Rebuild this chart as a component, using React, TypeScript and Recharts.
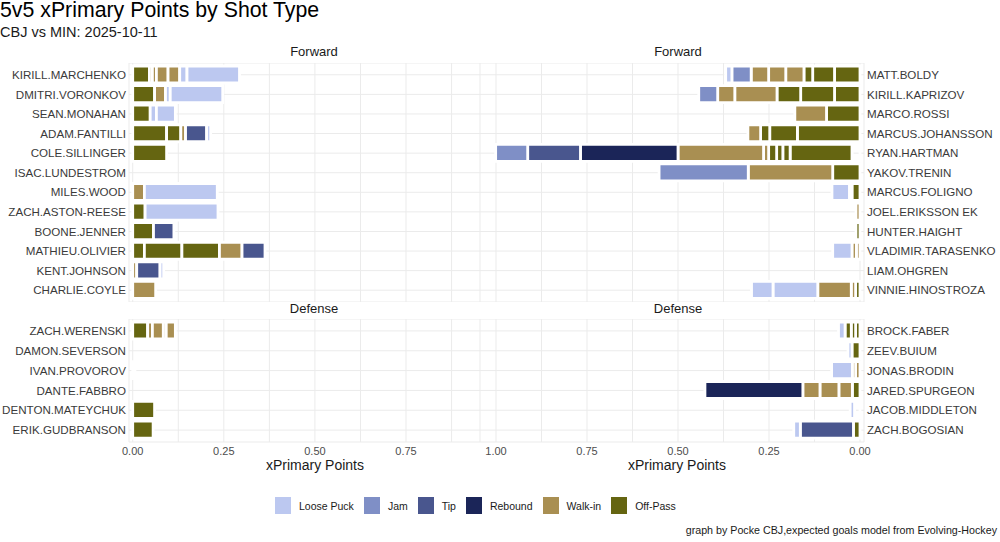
import React from "react";
import { BarChart, Bar, XAxis, YAxis, CartesianGrid, Cell } from "recharts";

// shot types in stacking order (legend order); furthest from zero first
const shotTypes = ["Loose Puck", "Jam", "Tip", "Rebound", "Walk-in", "Off-Pass"];
const shotColors = ["#bcc8f0", "#7f8fc6", "#49568e", "#1b2558", "#a98f52", "#656511"];

const LP = "Loose Puck", JM = "Jam", TP = "Tip", RB = "Rebound", WI = "Walk-in", OP = "Off-Pass", NA = "NA";

type Shot = [string, number];

// each shot listed from the zero line outward
const cbjForwards = [
  "KIRILL.MARCHENKO", "DMITRI.VORONKOV", "SEAN.MONAHAN", "ADAM.FANTILLI",
  "COLE.SILLINGER", "ISAC.LUNDESTROM", "MILES.WOOD", "ZACH.ASTON-REESE",
  "BOONE.JENNER", "MATHIEU.OLIVIER", "KENT.JOHNSON", "CHARLIE.COYLE",
];
const cbjForwardShots: Shot[][] = [
  [[OP, 0.046], [WI, 0.008], [WI, 0.011], [WI, 0.032], [WI, 0.032], [LP, 0.02], [LP, 0.144]],
  [[OP, 0.06], [WI, 0.03], [LP, 0.013], [LP, 0.144]],
  [[OP, 0.048], [LP, 0.017], [LP, 0.052]],
  [[OP, 0.093], [OP, 0.039], [WI, 0.013], [TP, 0.058], [LP, 0.011]],
  [[OP, 0.093]],
  [],
  [[WI, 0.032], [LP, 0.2]],
  [[OP, 0.034], [LP, 0.2]],
  [[OP, 0.057], [TP, 0.056]],
  [[OP, 0.032], [OP, 0.103], [OP, 0.103], [WI, 0.062], [TP, 0.063]],
  [[WI, 0.011], [TP, 0.064], [LP, 0.01]],
  [[WI, 0.063]],
];

const minForwards = [
  "MATT.BOLDY", "KIRILL.KAPRIZOV", "MARCO.ROSSI", "MARCUS.JOHANSSON",
  "RYAN.HARTMAN", "YAKOV.TRENIN", "MARCUS.FOLIGNO", "JOEL.ERIKSSON EK",
  "HUNTER.HAIGHT", "VLADIMIR.TARASENKO", "LIAM.OHGREN", "VINNIE.HINOSTROZA",
];
const minForwardShots: Shot[][] = [
  [[OP, 0.07], [OP, 0.06], [OP, 0.024], [WI, 0.05], [WI, 0.047], [WI, 0.048], [JM, 0.053], [LP, 0.017]],
  [[OP, 0.07], [OP, 0.093], [OP, 0.065], [WI, 0.116], [WI, 0.047], [JM, 0.052]],
  [[OP, 0.092], [WI, 0.087]],
  [[OP, 0.172], [OP, 0.076], [OP, 0.025], [WI, 0.035]],
  [[NA, 0.022], [OP, 0.17], [OP, 0.02], [OP, 0.017], [OP, 0.022], [WI, 0.014], [WI, 0.235], [RB, 0.268], [TP, 0.145], [JM, 0.088]],
  [[OP, 0.075], [WI, 0.232], [JM, 0.245]],
  [[OP, 0.022], [WI, 0.007], [LP, 0.048]],
  [[WI, 0.011]],
  [[OP, 0.011]],
  [[WI, 0.01], [WI, 0.012], [LP, 0.053]],
  [],
  [[OP, 0.012], [WI, 0.012], [WI, 0.092], [LP, 0.123], [LP, 0.059]],
];

const cbjDefense = [
  "ZACH.WERENSKI", "DAMON.SEVERSON", "IVAN.PROVOROV",
  "DANTE.FABBRO", "DENTON.MATEYCHUK", "ERIK.GUDBRANSON",
];
const cbjDefenseShots: Shot[][] = [
  [[OP, 0.041], [WI, 0.013], [WI, 0.03], [WI, 0.008], [WI, 0.025]],
  [],
  [[WI, 0.006]],
  [],
  [[OP, 0.06]],
  [[OP, 0.056]],
];

const minDefense = [
  "BROCK.FABER", "ZEEV.BUIUM", "JONAS.BRODIN",
  "JARED.SPURGEON", "JACOB.MIDDLETON", "ZACH.BOGOSIAN",
];
const minDefenseShots: Shot[][] = [
  [[OP, 0.012], [OP, 0.012], [OP, 0.017], [LP, 0.018]],
  [[OP, 0.022], [LP, 0.011]],
  [[WI, 0.012], [WI, 0.009], [LP, 0.057]],
  [[OP, 0.021], [WI, 0.037], [WI, 0.052], [WI, 0.047], [RB, 0.269]],
  [[NA, 0.015], [LP, 0.012]],
  [[OP, 0.018], [TP, 0.146], [LP, 0.018]],
];

const leftTicks = [0, 0.125, 0.25, 0.375, 0.5, 0.625, 0.75, 0.875];
const rightTicks = [0, 0.125, 0.25, 0.375, 0.5, 0.625, 0.75, 0.875, 1];
const majorTicks = [0, 0.25, 0.5, 0.75, 1];

const FONT = "'Liberation Sans', Arial, sans-serif";

function colorOf(t?: string) {
  const k = t ? shotTypes.indexOf(t) : -1;
  return k < 0 ? "transparent" : shotColors[k];
}

function buildRows(names: string[], shots: Shot[][], n: number) {
  return names.map((name, i) => {
    const row: Record<string, string | number> = { name };
    for (let j = 0; j < n; j++) row["s" + j] = shots[i][j] ? shots[i][j][1] : 0;
    return row;
  });
}

// plain text tick so "JOEL.ERIKSSON EK" is not wrapped
function NameTick(props: any) {
  const { x, y, payload, textAnchor } = props;
  return (
    <text x={x} y={y} dy="0.36em" textAnchor={textAnchor} fontSize={11.6} fill="#3a3a3a">
      {payload.value}
    </text>
  );
}

function Panel({ names, shots, right, top, height, showTicks }: {
  names: string[]; shots: Shot[][]; right: boolean; top: number; height: number; showTicks: boolean
}) {
  const n = Math.max(...shots.map((s) => s.length));
  const rows = buildRows(names, shots, n);
  const xh = showTicks ? 22 : 0;
  return (
    <div style={{ position: "absolute", left: right ? 480 : 0, top }}>
      <BarChart
        layout="vertical"
        width={right ? 520 : 480}
        height={height + xh}
        data={rows}
        margin={{ top: 0, right: 0, bottom: 0, left: 0 }}
        barSize={17}
      >
        <CartesianGrid stroke="#ebebeb" strokeWidth={1} />
        <XAxis
          type="number"
          domain={right ? [-0.011, 1.044] : [-0.0102, 0.953]}
          reversed={right}
          ticks={right ? rightTicks : leftTicks}
          interval={0}
          allowDataOverflow
          hide={!showTicks}
          height={xh}
          axisLine={false}
          tickLine={false}
          tickSize={0}
          tickMargin={5}
          tick={{ fontSize: 11, fill: "#4d4d4d" }}
          tickFormatter={(v: number) => (majorTicks.includes(v) ? v.toFixed(2) : "")}
        />
        <YAxis
          type="category"
          dataKey="name"
          orientation={right ? "right" : "left"}
          width={right ? 136 : 129}
          axisLine={false}
          tickLine={false}
          tickSize={0}
          tickMargin={3}
          interval={0}
          padding={{ top: 2, bottom: 2 }}
          tick={<NameTick />}
        />
        {Array.from({ length: n }, (_, j) => (
          <Bar key={j} dataKey={"s" + j} stackId="a" isAnimationActive={false} stroke="#ffffff" strokeWidth={2.8}>
            {rows.map((_r, i) => (
              <Cell key={i} fill={colorOf(shots[i][j] ? shots[i][j][0] : undefined)} />
            ))}
          </Bar>
        ))}
      </BarChart>
    </div>
  );
}

const label = (text: string, cx: number, top: number, size: number) => (
  <div style={{
    position: "absolute", left: cx - 100, width: 200, top, textAlign: "center",
    fontSize: size, color: "#1a1a1a", lineHeight: 1.15,
  }}>{text}</div>
);

export default function App() {
  return (
    <div style={{
      position: "absolute", left: 0, top: 0, width: 1000, height: 542,
      background: "#fff", fontFamily: FONT,
    }}>
      <div style={{ position: "absolute", left: 0, top: 0, fontSize: 21.3, color: "#000", lineHeight: 1 }}>
        5v5 xPrimary Points by Shot Type
      </div>
      <div style={{ position: "absolute", left: 0, top: 24, fontSize: 14.5, color: "#1a1a1a", lineHeight: 1.15 }}>
        CBJ vs MIN: 2025-10-11
      </div>

      {label("Forward", 314, 45, 13)}
      {label("Forward", 678, 45, 13)}
      {label("Defense", 314, 302, 13)}
      {label("Defense", 678, 302, 13)}

      <Panel names={cbjForwards} shots={cbjForwardShots} right={false} top={63} height={239} showTicks={false} />
      <Panel names={minForwards} shots={minForwardShots} right={true} top={63} height={239} showTicks={false} />
      <Panel names={cbjDefense} shots={cbjDefenseShots} right={false} top={319} height={123} showTicks={true} />
      <Panel names={minDefense} shots={minDefenseShots} right={true} top={319} height={123} showTicks={true} />

      {label("xPrimary Points", 315, 457, 14)}
      {label("xPrimary Points", 677, 457, 14)}

      <div style={{
        position: "absolute", left: 275, top: 497, display: "flex", alignItems: "center",
        fontSize: 10.5, color: "#1a1a1a",
      }}>
        {shotTypes.map((t, i) => (
          <div key={t} style={{ display: "flex", alignItems: "center", marginRight: 10 }}>
            <div style={{ width: 16, height: 17, background: shotColors[i], marginRight: 8 }} />
            <span>{t}</span>
          </div>
        ))}
      </div>

      <div style={{
        position: "absolute", right: 3, top: 524, fontSize: 10.7, color: "#1a1a1a",
      }}>
        graph by Pocke CBJ,expected goals model from Evolving-Hockey
      </div>
    </div>
  );
}
